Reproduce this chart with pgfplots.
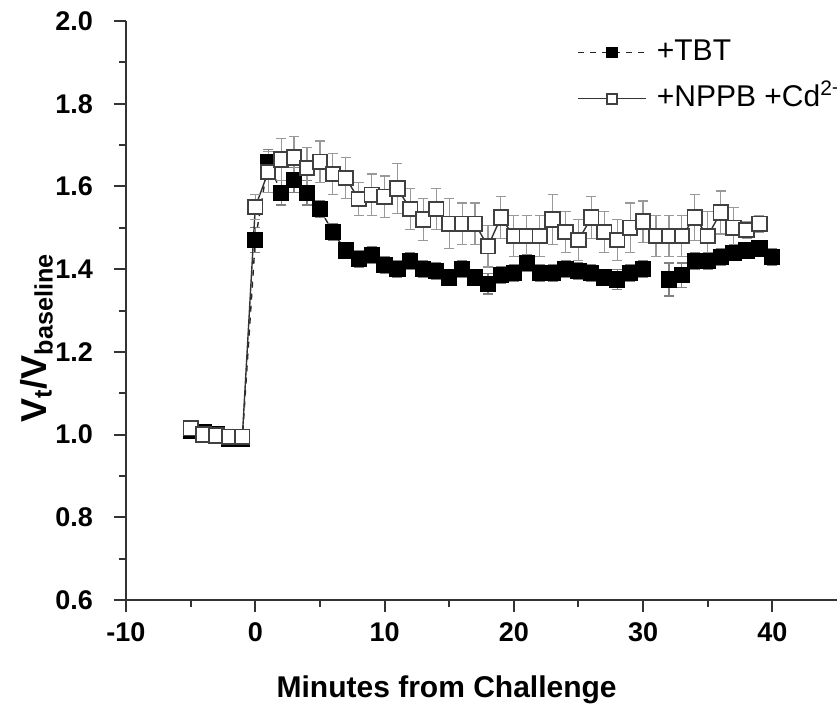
\documentclass[border=0pt]{standalone}
\usepackage{fontspec}
\setmainfont{Liberation Sans}
\usepackage{pgfplots}
\usepackage{pgfplotstable}
\pgfplotsset{compat=1.18}

% TBT (filled squares)
\pgfplotstableread{
x y e
-5 1.010 0.010
-4 1.005 0.010
-3 1.000 0.010
-2 0.990 0.010
-1 0.990 0.010
0 1.470 0.030
1 1.660 0.030
2 1.585 0.030
3 1.615 0.030
4 1.585 0.030
5 1.545 0.020
6 1.490 0.020
7 1.445 0.020
8 1.425 0.020
9 1.435 0.020
10 1.410 0.020
11 1.400 0.020
12 1.420 0.020
13 1.400 0.020
14 1.395 0.020
15 1.380 0.020
16 1.400 0.020
17 1.380 0.020
18 1.365 0.025
19 1.385 0.020
20 1.390 0.020
21 1.415 0.020
22 1.390 0.020
23 1.390 0.020
24 1.400 0.020
25 1.395 0.020
26 1.390 0.020
27 1.380 0.020
28 1.375 0.025
29 1.390 0.020
30 1.400 0.020
31 nan nan
32 1.375 0.040
33 1.385 0.030
34 1.420 0.020
35 1.420 0.020
36 1.430 0.020
37 1.440 0.020
38 1.445 0.020
39 1.450 0.020
40 1.430 0.020
}\tbt

% NPPB + Cd2+ (open squares)
\pgfplotstableread{
x y e
-5 1.015 0.010
-4 1.000 0.010
-3 0.998 0.010
-2 0.995 0.010
-1 0.995 0.010
0 1.550 0.030
1 1.635 0.050
2 1.665 0.050
3 1.670 0.050
4 1.645 0.050
5 1.660 0.050
6 1.630 0.050
7 1.620 0.050
8 1.570 0.040
9 1.580 0.050
10 1.575 0.050
11 1.595 0.060
12 1.545 0.050
13 1.520 0.050
14 1.545 0.050
15 1.510 0.060
16 1.510 0.050
17 1.510 0.050
18 1.455 0.050
19 1.525 0.050
20 1.480 0.050
21 1.480 0.050
22 1.480 0.050
23 1.520 0.060
24 1.490 0.050
25 1.470 0.050
26 1.525 0.050
27 1.490 0.050
28 1.470 0.050
29 1.500 0.060
30 1.515 0.050
31 1.480 0.050
32 1.480 0.050
33 1.480 0.050
34 1.525 0.055
35 1.480 0.060
36 1.537 0.052
37 1.500 0.050
38 1.495 0.020
39 1.510 0.020
}\nppb

\begin{document}
\begin{tikzpicture}
\begin{axis}[
    scale only axis,
    width=355.5pt, height=289.5pt,
    xmin=-10, xmax=45, ymin=0.6, ymax=2.0,
    axis x line*=bottom, axis y line*=left,
    axis line style={line width=1.2pt, black!80},
    xtick={-10,0,10,20,30,40},
    ytick={0.6,0.8,1.0,1.2,1.4,1.6,1.8,2.0},
    minor x tick num=1, minor y tick num=1,
    tick align=outside,
    major tick length=6pt, minor tick length=3.5pt,
    tick style={line width=1pt, black!80},
    /pgf/number format/assume math mode=true,
    ticklabel style={font=\fontsize{13.5}{16}\selectfont\bfseries},
    yticklabel style={/pgf/number format/.cd, fixed, fixed zerofill, precision=1},
    yticklabel shift=7pt,
    xticklabel shift=2pt,
    xlabel={Minutes from Challenge},
    xlabel style={font=\fontsize{15}{18}\selectfont\bfseries,
        at={(axis description cs:0.451,-0.169)}, anchor=base},
    ylabel={V\textsubscript{t}/V\textsubscript{baseline}},
    ylabel style={font=\fontsize{18}{21}\selectfont\bfseries,
        at={(axis description cs:-0.112,0.294)}, anchor=base west, rotate=0},
    unbounded coords=jump,
    legend style={at={(axis description cs:0.626,0.976)}, anchor=north west,
        draw=none, fill=none, font=\fontsize{15}{18}\selectfont,
        row sep=9.5pt, column sep=5pt,
        nodes={inner sep=0pt, text height=10.5pt, text depth=3pt},
        cells={anchor=west}},
    legend image code/.code={
        \draw[mark repeat=2, mark phase=2, mark size=2.5pt]
        plot coordinates {(0pt,0pt) (17pt,0pt) (34pt,0pt)};},
]
\addplot[black!85, dashed, line width=0.7pt,
    mark=square*, mark size=3.7pt, mark options={solid, fill=black, draw=black},
    error bars/.cd, y dir=both, y explicit,
    error bar style={solid, gray, line width=0.6pt},
    error mark options={solid, rotate=90, mark size=2.5pt, gray, line width=0.6pt}]
    table[x=x, y=y, y error=e] {\tbt};
\addlegendentry{+TBT}

\addplot[black!80, solid, line width=0.7pt,
    mark=square*, mark size=3.6pt, mark options={fill=white, draw=black!75, line width=0.9pt},
    error bars/.cd, y dir=both, y explicit,
    error bar style={gray!80, line width=0.6pt},
    error mark options={rotate=90, mark size=2.5pt, gray!80, line width=0.6pt}]
    table[x=x, y=y, y error=e] {\nppb};
\addlegendentry{+NPPB +Cd\textsuperscript{2+}}
\end{axis}
\pgfresetboundingbox
\useasboundingbox ([shift={(-63pt,-54pt)}]current axis.south west)
    rectangle ([shift={(0pt,10.5pt)}]current axis.north east);
\end{tikzpicture}
\end{document}
